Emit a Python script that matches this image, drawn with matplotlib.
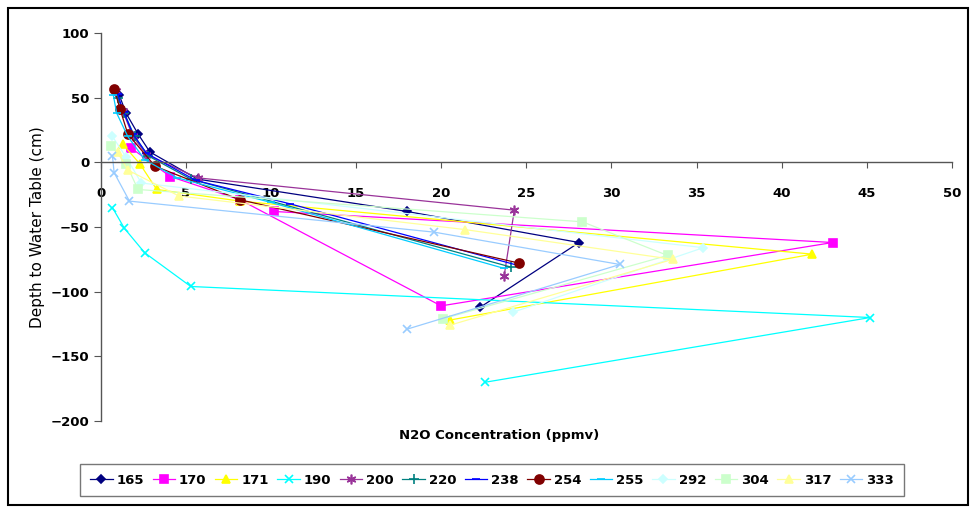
import matplotlib
matplotlib.use("Agg")
import matplotlib.pyplot as plt
from matplotlib.patches import Rectangle

# N2O profiles per site: concentration (ppmv) vs depth to water table (cm)
sites = ["165", "170", "171", "190", "200", "220", "238", "254", "255", "292", "304", "317", "333"]

n2o_165 = [1.1, 1.5, 2.2, 2.9, 5.7, 18.0, 28.1, 22.3]
depth_165 = [52, 38, 22, 8, -13, -38, -62, -112]
n2o_170 = [1.8, 4.1, 8.2, 20.0, 43.0, 10.2]
depth_170 = [11, -11, -29, -111, -62, -38]
n2o_171 = [1.3, 2.3, 3.3, 8.2, 41.8, 20.5]
depth_171 = [14, -1, -21, -30, -71, -122]
n2o_190 = [0.7, 1.4, 2.6, 5.3, 45.2, 22.6]
depth_190 = [-35, -51, -70, -96, -120, -170]
n2o_200 = [0.9, 1.3, 1.9, 2.7, 5.7, 24.3, 23.7]
depth_200 = [55, 40, 20, 6, -12, -37, -88]
n2o_220 = [1.0, 1.4, 2.0, 2.8, 5.3, 24.1]
depth_220 = [50, 38, 20, 5, -13, -81]
n2o_238 = [1.0, 1.35, 1.9, 2.7, 5.6, 11.1, 24.6]
depth_238 = [53, 39, 22, 7, -14, -32, -80]
n2o_254 = [0.8, 1.15, 1.6, 3.2, 8.2, 24.6]
depth_254 = [57, 41, 22, -3, -29, -78]
n2o_255 = [0.75, 0.95, 1.6, 2.6, 4.5, 10.0, 23.7]
depth_255 = [52, 38, 20, 2, -12, -31, -82]
n2o_292 = [0.7, 1.5, 2.4, 35.4, 24.2]
depth_292 = [20, 4, -16, -66, -116]
n2o_304 = [0.6, 1.5, 2.2, 28.3, 33.3, 20.1]
depth_304 = [13, -1, -21, -46, -72, -121]
n2o_317 = [1.0, 1.6, 4.6, 21.4, 33.6, 20.5]
depth_317 = [8, -6, -26, -52, -75, -126]
n2o_333 = [0.7, 0.8, 1.7, 19.6, 30.5, 18.0]
depth_333 = [5, -8, -30, -54, -79, -129]

x_ticks = [0, 5, 10, 15, 20, 25, 30, 35, 40, 45, 50]
y_ticks = [-200, -150, -100, -50, 0, 50, 100]

colors = ["#000080", "#FF00FF", "#FFFF00", "#00FFFF", "#993399", "#008080", "#0000FF",
          "#800000", "#00CCFF", "#CCFFFF", "#CCFFCC", "#FFFF99", "#99CCFF"]
markers = ["D", "s", "^", "x", (6, 2, 0), "+", "_", "o", "_", "D", "s", "^", "x"]
sizes = [4.5, 6, 6, 6, 7, 7, 6, 6.5, 6, 4.5, 6, 6, 6]

series = [
    (n2o_165, depth_165), (n2o_170, depth_170), (n2o_171, depth_171),
    (n2o_190, depth_190), (n2o_200, depth_200), (n2o_220, depth_220),
    (n2o_238, depth_238), (n2o_254, depth_254), (n2o_255, depth_255),
    (n2o_292, depth_292), (n2o_304, depth_304), (n2o_317, depth_317),
    (n2o_333, depth_333),
]

plt.rcParams["font.family"] = ["DejaVu Sans"]

fig = plt.figure(figsize=(9.74, 5.09), dpi=100)
ax = fig.add_axes([0.1032, 0.1729, 0.8742, 0.7623])

for name, (x, y), c, m, s in zip(sites, series, colors, markers, sizes):
    ax.plot(x, y, color=c, marker=m, markersize=s, linewidth=0.9,
            markeredgewidth=1.2, markeredgecolor=c, markerfacecolor=c, label=name)

ax.set_xlim(0, 50)
ax.set_ylim(-200, 100)
ax.set_xticks(x_ticks)
ax.set_yticks(y_ticks)

ax.spines["top"].set_visible(False)
ax.spines["right"].set_visible(False)
ax.spines["bottom"].set_position(("data", 0))
for sp in ("left", "bottom"):
    ax.spines[sp].set_color("#555555")
    ax.spines[sp].set_linewidth(1.0)

ax.tick_params(axis="x", direction="out", length=4, pad=14, color="#555555",
               labelsize=9.5)
ax.tick_params(axis="y", direction="out", length=5, pad=3, color="#555555",
               labelsize=9.5)
for lab in ax.get_xticklabels() + ax.get_yticklabels():
    lab.set_fontweight("bold")

ax.set_ylabel("Depth to Water Table (cm)", fontsize=11)
ax.yaxis.set_label_coords(-0.065, 0.5)
fig.text(499 / 974, 1 - 435 / 509, "N2O Concentration (ppmv)", ha="center",
         va="center", fontsize=9.5, fontweight="bold")

leg = fig.legend(loc="center", bbox_to_anchor=(492 / 974, 1 - 480 / 509), ncol=13,
                 frameon=True, fancybox=False, edgecolor="#555555",
                 prop={"size": 9.5, "weight": "bold"}, handlelength=1.7,
                 handletextpad=0.3, columnspacing=0.65, borderpad=0.75)
leg.get_frame().set_linewidth(1.0)

# outer chart border
fig.patches.append(Rectangle((8 / 974, 4 / 509), 960 / 974, 497 / 509,
                             transform=fig.transFigure, fill=False,
                             edgecolor="black", linewidth=1.5))

fig.savefig("out.png", dpi=100)
